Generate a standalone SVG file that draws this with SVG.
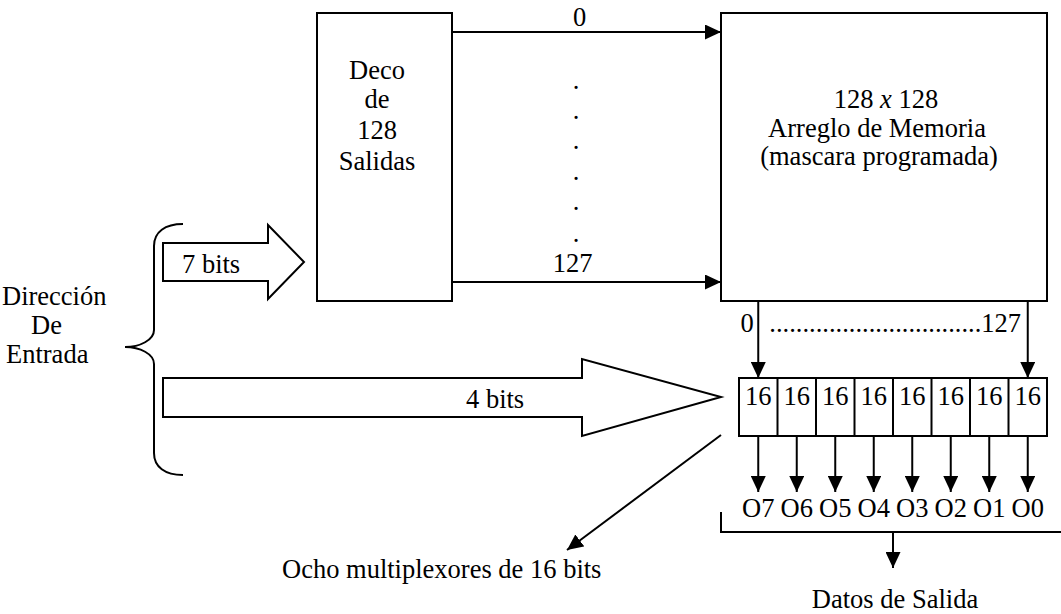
<svg xmlns="http://www.w3.org/2000/svg" width="1061" height="614" viewBox="0 0 1061 614">
<defs>
<style>
text{font-family:"Liberation Serif","Times New Roman",serif;font-size:26.5px;fill:#000}
.c{text-anchor:middle}
.b{fill:#fff;stroke:#000;stroke-width:2}
.l{fill:none;stroke:#000;stroke-width:2}
</style>
<marker id="ah" viewBox="0 0 16 15" refX="16" refY="7.5" markerWidth="16" markerHeight="15" orient="auto" markerUnits="userSpaceOnUse"><path d="M0,0 L16,7.5 L0,15 z" fill="#000"/></marker>
</defs>
<rect width="1061" height="614" fill="#fff"/>
<g id="direccion">
<path class="l" d="M183,224 C165,224 154,232 154,246 L154,330 C154,340 140,347 125,347 C140,347 154,354 154,364 L154,453 C154,467 165,475 183,475"/>
<text x="2" y="305">Dirección</text>
<text x="31" y="334">De</text>
<text x="6" y="363">Entrada</text>
</g>
<g id="bus7">
<polygon class="b" points="163,243 268,243 268,225 304,262 268,299 268,281 163,281"/>
<text x="182" y="273">7 bits</text>
</g>
<g id="bus4">
<polygon class="b" points="163,378 582,378 582,359 721,397 582,436 582,417 163,417"/>
<text x="466" y="408">4 bits</text>
</g>
<g id="deco">
<rect class="b" x="317" y="13" width="135" height="288"/>
<text class="c" x="377" y="79">Deco</text>
<text class="c" x="377" y="108">de</text>
<text class="c" x="377" y="139">128</text>
<text class="c" x="377" y="170">Salidas</text>
</g>
<g id="memoria">
<rect class="b" x="721" y="13" width="326" height="288"/>
<text class="c" x="886" y="108">128 <tspan font-style="italic">x</tspan> 128</text>
<text class="c" x="877" y="137">Arreglo de Memoria</text>
<text class="c" x="879" y="165">(mascara programada)</text>
</g>
<g id="mux">
<rect class="b" x="739" y="378" width="308" height="58"/>
<path class="l" d="M777.5,378V436M816,378V436M854.5,378V436M893,378V436M931.5,378V436M970,378V436M1008.5,378V436"/>
<text class="c" x="758.25" y="405">16</text>
<text class="c" x="796.75" y="405">16</text>
<text class="c" x="835.25" y="405">16</text>
<text class="c" x="873.75" y="405">16</text>
<text class="c" x="912.25" y="405">16</text>
<text class="c" x="950.75" y="405">16</text>
<text class="c" x="989.25" y="405">16</text>
<text class="c" x="1027.75" y="405">16</text>
</g>
<g id="connectors">
<line class="l" x1="452" y1="32" x2="721" y2="32" marker-end="url(#ah)"/>
<line class="l" x1="452" y1="282" x2="721" y2="282" marker-end="url(#ah)"/>
<text class="c" x="579.5" y="26">0</text>
<text class="c" x="572.5" y="272">127</text>
<text class="c" x="576" y="89">.</text>
<text class="c" x="576" y="119">.</text>
<text class="c" x="576" y="149">.</text>
<text class="c" x="576" y="180">.</text>
<text class="c" x="576" y="210">.</text>
<text class="c" x="576" y="242">.</text>
<line class="l" x1="758.25" y1="301" x2="758.25" y2="378" marker-end="url(#ah)"/>
<line class="l" x1="1027.75" y1="301" x2="1027.75" y2="378" marker-end="url(#ah)"/>
<text class="c" x="747" y="332">0</text>
<text x="1021" y="332" text-anchor="end">................................127</text>
<line class="l" x1="758.25" y1="436" x2="758.25" y2="492" marker-end="url(#ah)"/>
<line class="l" x1="796.75" y1="436" x2="796.75" y2="492" marker-end="url(#ah)"/>
<line class="l" x1="835.25" y1="436" x2="835.25" y2="492" marker-end="url(#ah)"/>
<line class="l" x1="873.75" y1="436" x2="873.75" y2="492" marker-end="url(#ah)"/>
<line class="l" x1="912.25" y1="436" x2="912.25" y2="492" marker-end="url(#ah)"/>
<line class="l" x1="950.75" y1="436" x2="950.75" y2="492" marker-end="url(#ah)"/>
<line class="l" x1="989.25" y1="436" x2="989.25" y2="492" marker-end="url(#ah)"/>
<line class="l" x1="1027.75" y1="436" x2="1027.75" y2="492" marker-end="url(#ah)"/>
<line class="l" x1="721" y1="435" x2="567" y2="550" marker-end="url(#ah)"/>
<path class="l" d="M721,512V532H1061"/>
<line class="l" x1="893" y1="532" x2="893" y2="568" marker-end="url(#ah)"/>
</g>
<g id="salidas">
<text class="c" x="758.25" y="517">O7</text>
<text class="c" x="796.75" y="517">O6</text>
<text class="c" x="835.25" y="517">O5</text>
<text class="c" x="873.75" y="517">O4</text>
<text class="c" x="912.25" y="517">O3</text>
<text class="c" x="950.75" y="517">O2</text>
<text class="c" x="989.25" y="517">O1</text>
<text class="c" x="1027.75" y="517">O0</text>
<text class="c" x="895" y="608">Datos de Salida</text>
</g>
<g id="etiqueta">
<text x="282" y="578">Ocho multiplexores de 16 bits</text>
</g>
</svg>
